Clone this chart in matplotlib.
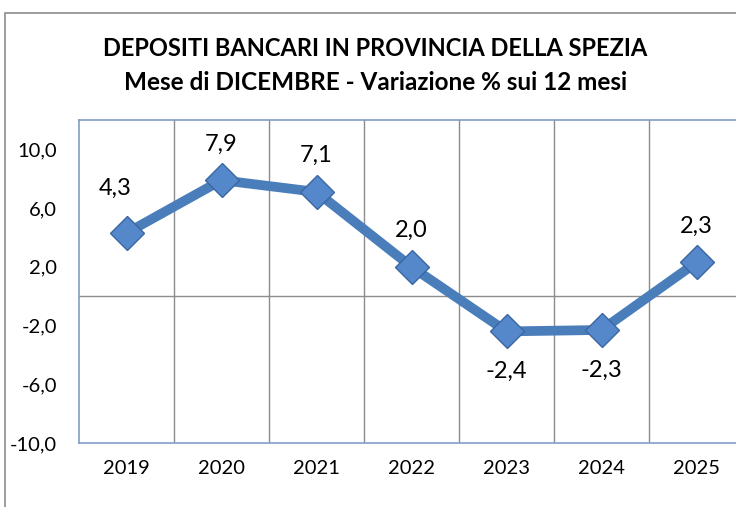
import matplotlib
matplotlib.use("Agg")
import matplotlib.pyplot as plt
from matplotlib.patches import Rectangle

plt.rcParams['font.family'] = ['Lato', 'DejaVu Sans']

years = ['2019', '2020', '2021', '2022', '2023', '2024', '2025']
variazione = [4.3, 7.9, 7.1, 2.0, -2.4, -2.3, 2.3]
y_ticks = [-10, -6, -2, 2, 6, 10]

LINE_COL = '#4A7EBB'

fig = plt.figure(figsize=(7.36, 5.07), dpi=100)

# outer chart frame (cut at right and bottom like the source)
fig.patches.append(Rectangle((5 / 736, -0.05), 1.0, 1 - 13 / 507 + 0.05,
                             transform=fig.transFigure, fill=False,
                             edgecolor='#8C8C8C', linewidth=1.2))

ax = fig.add_axes([79 / 736, 1 - 443 / 507, 665 / 736, 323 / 507])
x = list(range(len(years)))

ax.plot(x, variazione, color=LINE_COL, linewidth=7, zorder=3,
        solid_capstyle='round', solid_joinstyle='round')
ax.plot(x, variazione, linestyle='none', marker='D', markersize=17,
        markerfacecolor='#5488CB', markeredgecolor='#3A67A2',
        markeredgewidth=1.0, zorder=4)

for xi, v in zip(x, variazione):
    off = 26 if v >= 0 else -29
    ax.annotate(f'{v:.1f}'.replace('.', ','), (xi, v),
                xytext=(-8 if xi == 0 else 0, off + (6 if xi == 0 else 0)),
                textcoords='offset points', ha='center', va='center',
                fontsize=17, color='black', zorder=5)

ax.set_xlim(-0.5, len(years) - 0.5)
ax.set_ylim(-10, 12)
ax.set_yticks(y_ticks)
ax.set_yticklabels([f'{t:.1f}'.replace('.', ',') for t in y_ticks], fontsize=14.5)
ax.set_xticks(x)
ax.set_xticklabels(years, fontsize=14.5)
ax.tick_params(length=0, pad=12)
ax.tick_params(axis='y', pad=16)

# vertical gridlines between categories, horizontal axis line at zero
for b in range(1, len(years)):
    ax.axvline(b - 0.5, color='#8C8C8C', linewidth=1.0, zorder=1)
ax.axhline(0, color='#8C8C8C', linewidth=1.0, zorder=1)

for side in ['top', 'left', 'bottom', 'right']:
    ax.spines[side].set_color('#7F9DC8')
    ax.spines[side].set_linewidth(1.2)

fig.text(375 / 736, 1 - 48 / 507, 'DEPOSITI BANCARI IN PROVINCIA DELLA SPEZIA',
         ha='center', va='center', fontsize=17, fontweight='bold')
fig.text(376 / 736, 1 - 83 / 507, 'Mese di DICEMBRE - Variazione % sui 12 mesi',
         ha='center', va='center', fontsize=17.5, fontweight='bold')

fig.savefig('out.png', dpi=100)
